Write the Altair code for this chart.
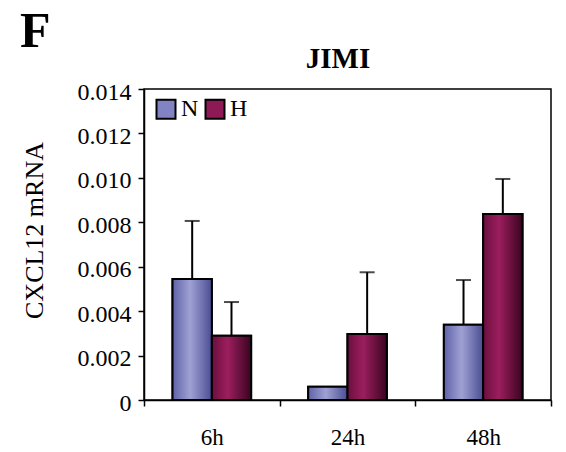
import altair as alt
import pandas as pd

# Time points and conditions
times = ["6h", "24h", "48h"]
groups = ["N", "H"]

# CXCL12 mRNA means and upper error (SD) per time point
n_mean = [0.00545, 0.00060, 0.00339]
n_sd = [0.00261, 0.0, 0.00201]
h_mean = [0.00289, 0.00297, 0.00837]
h_sd = [0.00152, 0.00278, 0.00158]

y_ticks = [0, 0.002, 0.004, 0.006, 0.008, 0.010, 0.012, 0.014]

rows = []
for i, t in enumerate(times):
    rows.append({"time": t, "group": "N", "mean": n_mean[i], "sd": n_sd[i]})
    rows.append({"time": t, "group": "H", "mean": h_mean[i], "sd": h_sd[i]})
df = pd.DataFrame(rows)
df["upper"] = df["mean"] + df["sd"]

FONT = "Liberation Serif"
N_SOLID = "#8183c3"
H_SOLID = "#8e1a55"

grad_n = alt.Gradient(
    gradient="linear", x1=0, x2=1, y1=0, y2=0,
    stops=[alt.GradientStop(color="#5f62a8", offset=0),
           alt.GradientStop(color="#9fa1d4", offset=0.45),
           alt.GradientStop(color="#4a4d92", offset=1)],
)
grad_h = alt.Gradient(
    gradient="linear", x1=0, x2=1, y1=0, y2=0,
    stops=[alt.GradientStop(color="#6a0f3e", offset=0),
           alt.GradientStop(color="#9c1e5e", offset=0.4),
           alt.GradientStop(color="#3a0420", offset=1)],
)

x_enc = alt.X(
    "time:N", sort=times,
    scale=alt.Scale(paddingInner=0, paddingOuter=0),
    axis=alt.Axis(title=None, tickBand="extent", tickSize=6, labelPadding=20,
                  labelFontSize=23, labelAngle=0, labelFontWeight="normal"),
)
xo_enc = alt.XOffset(
    "group:N", sort=groups,
    scale=alt.Scale(domain=groups, paddingInner=0, paddingOuter=0.726),
)
y_enc = alt.Y(
    "mean:Q",
    scale=alt.Scale(domain=[0, 0.014], nice=False),
    axis=alt.Axis(
        values=y_ticks,
        labelExpr="datum.value == 0 ? '0' : format(datum.value, '.3f')",
        title="CXCL12 mRNA", titleFontSize=26, titleFontWeight="normal",
        titleColor="black",
        titleAngle=270, titleAlign="center", titleBaseline="alphabetic",
        titleX=-102, titleY=141,
        tickSize=6, labelPadding=7, labelFontSize=24, labelOffset=3,
    ),
)

base = alt.Chart(df)

# Solid bars carry the legend; gradient bars are drawn over them
legend_bars = base.mark_bar(stroke="black", strokeWidth=2).encode(
    x=x_enc, xOffset=xo_enc, y=y_enc,
    color=alt.Color(
        "group:N",
        scale=alt.Scale(domain=groups, range=[N_SOLID, H_SOLID]),
        legend=alt.Legend(
            title=None, orient="none", legendX=10, legendY=8,
            direction="horizontal", symbolType="square", symbolSize=361,
            symbolStrokeColor="black", symbolStrokeWidth=2,
            labelFont=FONT, labelFontSize=24, labelColor="black",
            labelOffset=3, columnPadding=2, padding=0,
        ),
    ),
)

bars_n = base.transform_filter(alt.datum.group == "N").mark_bar(
    fill=grad_n, stroke="black", strokeWidth=2
).encode(x=x_enc, xOffset=xo_enc, y=y_enc)

bars_h = base.transform_filter(alt.datum.group == "H").mark_bar(
    fill=grad_h, stroke="black", strokeWidth=2
).encode(x=x_enc, xOffset=xo_enc, y=y_enc)

err = base.transform_filter(alt.datum.sd > 0)

whiskers = err.mark_rule(color="black", strokeWidth=2).encode(
    x=x_enc, xOffset=xo_enc, y=y_enc, y2="upper:Q"
)
caps = err.mark_tick(color="black", thickness=2, size=15).encode(
    x=x_enc, xOffset=xo_enc, y="upper:Q"
)

# Panel letter and chart heading
panel = alt.Chart(pd.DataFrame({"label": ["F"]})).mark_text(
    font=FONT, fontSize=50, fontWeight="bold", color="black",
    align="left", baseline="alphabetic",
).encode(x=alt.value(-124), y=alt.value(-42), text="label:N")

heading = alt.Chart(pd.DataFrame({"label": ["JIMI"]})).mark_text(
    font=FONT, fontSize=29, fontWeight="bold", color="black",
    align="center", baseline="alphabetic",
).encode(x=alt.value(194), y=alt.value(-21), text="label:N")

chart = alt.layer(
    legend_bars, bars_n, bars_h, whiskers, caps, panel, heading
).properties(
    width=407,
    height=311,
    autosize=alt.AutoSizeParams(type="none"),
    padding={"left": 144, "top": 89, "right": 15, "bottom": 52},
).configure_view(
    stroke="black", strokeWidth=1.5
).configure_axis(
    grid=False, domainColor="black", domainWidth=1.5, tickColor="black",
    tickWidth=1.5, labelColor="black", titleColor="black",
    labelFont=FONT, titleFont=FONT,
)

chart.save("out.html", embed_options={"renderer": "svg", "actions": False})
